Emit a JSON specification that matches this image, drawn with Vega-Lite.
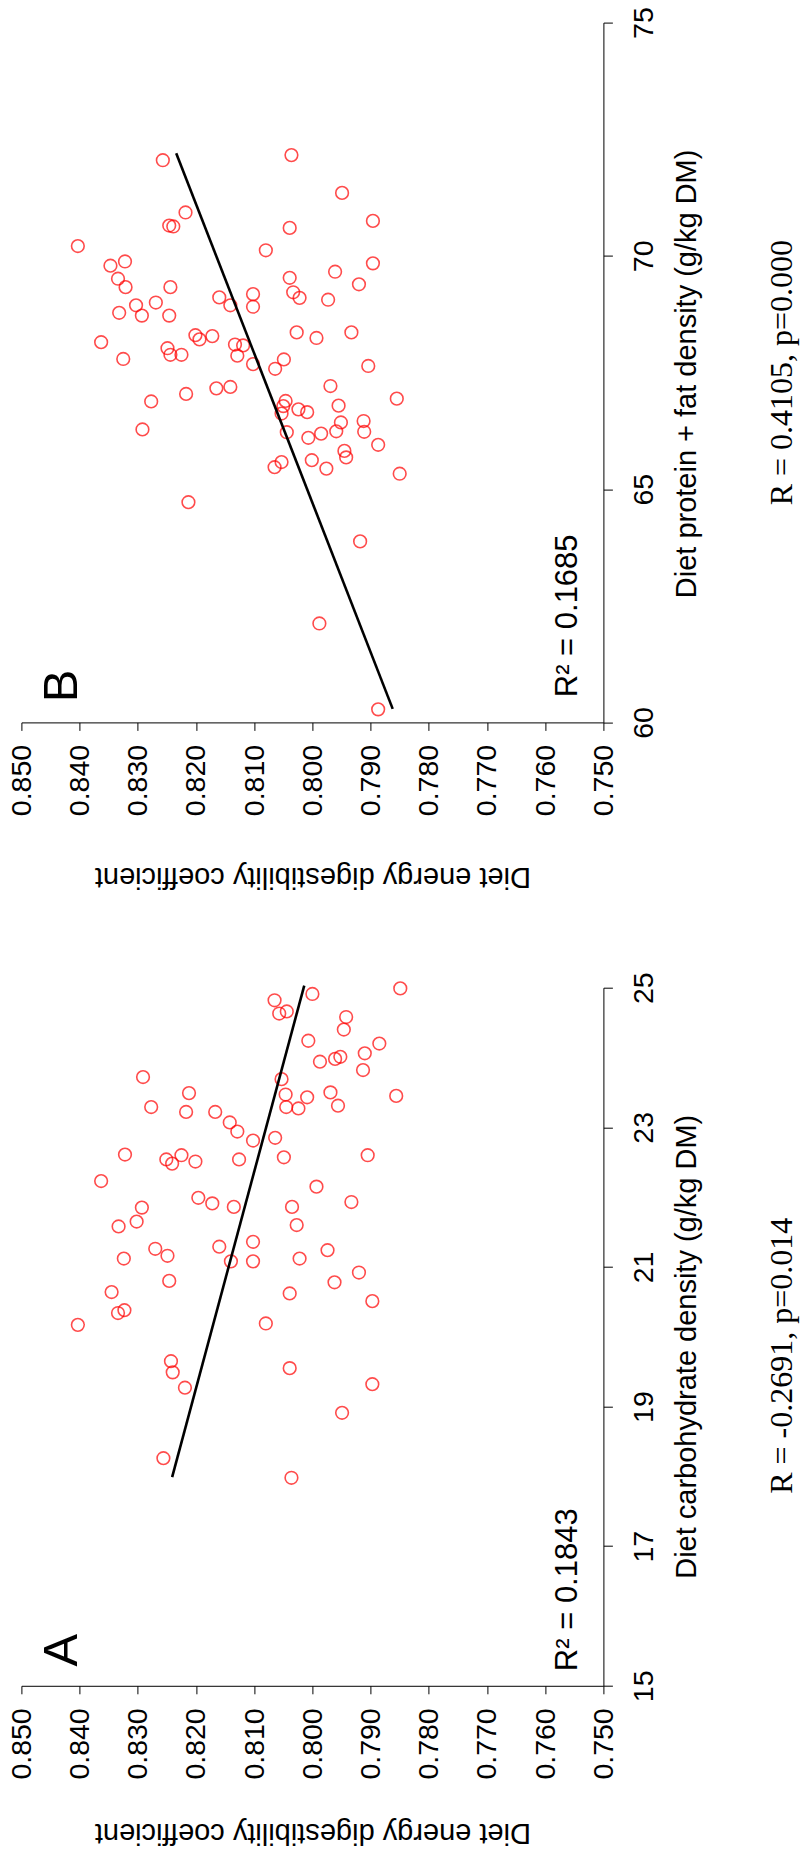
{
  "$schema": "https://vega.github.io/schema/vega-lite/v6.json",
  "padding": {"left": 7.4, "top": 6.6, "right": 40, "bottom": 40},
  "background": "white",
  "bounds": "flush",
  "spacing": 265.1,
  "datasets": {
    "pointsB": [
      {"digestibility":0.8403,"density":70.21},{"digestibility":0.8363,"density":68.15},{"digestibility":0.8347,"density":69.79},{"digestibility":0.8334,"density":69.51},{"digestibility":0.8332,"density":68.78},{"digestibility":0.8325,"density":67.79},{"digestibility":0.8322,"density":69.88},{"digestibility":0.8321,"density":69.33},{"digestibility":0.8303,"density":68.94},{"digestibility":0.8293,"density":68.72},{"digestibility":0.8292,"density":66.28},{"digestibility":0.8277,"density":66.88},{"digestibility":0.8269,"density":69.00},{"digestibility":0.8257,"density":72.05},{"digestibility":0.8249,"density":68.02},{"digestibility":0.8246,"density":68.72},{"digestibility":0.8244,"density":69.33},{"digestibility":0.8246,"density":70.65},{"digestibility":0.8239,"density":70.63},{"digestibility":0.8244,"density":67.88},{"digestibility":0.8225,"density":67.88},{"digestibility":0.8218,"density":70.93},{"digestibility":0.8217,"density":67.04},{"digestibility":0.8213,"density":64.72},{"digestibility":0.8201,"density":68.30},{"digestibility":0.8194,"density":68.21},{"digestibility":0.8172,"density":68.28},{"digestibility":0.8165,"density":67.16},{"digestibility":0.8160,"density":69.11},{"digestibility":0.8141,"density":68.94},{"digestibility":0.8141,"density":67.19},{"digestibility":0.8133,"density":68.10},{"digestibility":0.8129,"density":67.86},{"digestibility":0.8119,"density":68.08},{"digestibility":0.8102,"density":69.18},{"digestibility":0.8102,"density":68.91},{"digestibility":0.8102,"density":67.68},{"digestibility":0.8080,"density":70.12},{"digestibility":0.8065,"density":65.47},{"digestibility":0.8064,"density":67.58},{"digestibility":0.8053,"density":65.58},{"digestibility":0.8049,"density":67.78},{"digestibility":0.8053,"density":66.62},{"digestibility":0.8046,"density":66.89},{"digestibility":0.8050,"density":66.78},{"digestibility":0.8044,"density":66.22},{"digestibility":0.8039,"density":70.60},{"digestibility":0.8039,"density":69.53},{"digestibility":0.8036,"density":72.16},{"digestibility":0.8033,"density":69.22},{"digestibility":0.8027,"density":68.36},{"digestibility":0.8024,"density":66.71},{"digestibility":0.8022,"density":69.10},{"digestibility":0.8009,"density":66.65},{"digestibility":0.8007,"density":66.10},{"digestibility":0.8001,"density":65.62},{"digestibility":0.7993,"density":68.24},{"digestibility":0.7988,"density":62.12},{"digestibility":0.7985,"density":66.19},{"digestibility":0.7976,"density":65.44},{"digestibility":0.7973,"density":69.06},{"digestibility":0.7969,"density":67.21},{"digestibility":0.7961,"density":69.66},{"digestibility":0.7959,"density":66.24},{"digestibility":0.7955,"density":66.79},{"digestibility":0.7951,"density":66.43},{"digestibility":0.7949,"density":71.35},{"digestibility":0.7945,"density":65.82},{"digestibility":0.7942,"density":65.68},{"digestibility":0.7933,"density":68.36},{"digestibility":0.7920,"density":69.39},{"digestibility":0.7918,"density":63.88},{"digestibility":0.7912,"density":66.46},{"digestibility":0.7911,"density":66.23},{"digestibility":0.7904,"density":67.64},{"digestibility":0.7896,"density":70.75},{"digestibility":0.7896,"density":69.84},{"digestibility":0.7887,"density":65.95},{"digestibility":0.7887,"density":60.28},{"digestibility":0.7855,"density":66.94},{"digestibility":0.7850,"density":65.33}
    ],
    "pointsA": [
      {"digestibility":0.8403,"density":20.17},{"digestibility":0.8363,"density":22.23},{"digestibility":0.8345,"density":20.64},{"digestibility":0.8334,"density":20.34},{"digestibility":0.8333,"density":21.58},{"digestibility":0.8323,"density":20.38},{"digestibility":0.8324,"density":21.12},{"digestibility":0.8322,"density":22.61},{"digestibility":0.8302,"density":21.65},{"digestibility":0.8293,"density":21.85},{"digestibility":0.8291,"density":23.72},{"digestibility":0.8277,"density":23.29},{"digestibility":0.8270,"density":21.26},{"digestibility":0.8256,"density":18.26},{"digestibility":0.8249,"density":21.16},{"digestibility":0.8246,"density":20.80},{"digestibility":0.8251,"density":22.54},{"digestibility":0.8243,"density":19.65},{"digestibility":0.8240,"density":19.49},{"digestibility":0.8241,"density":22.48},{"digestibility":0.8225,"density":22.60},{"digestibility":0.8219,"density":19.27},{"digestibility":0.8217,"density":23.22},{"digestibility":0.8212,"density":23.49},{"digestibility":0.8201,"density":22.51},{"digestibility":0.8196,"density":21.99},{"digestibility":0.8172,"density":21.91},{"digestibility":0.8167,"density":23.22},{"digestibility":0.8160,"density":21.29},{"digestibility":0.8142,"density":23.07},{"digestibility":0.8140,"density":21.08},{"digestibility":0.8135,"density":21.86},{"digestibility":0.8129,"density":22.94},{"digestibility":0.8126,"density":22.54},{"digestibility":0.8102,"density":22.81},{"digestibility":0.8102,"density":21.36},{"digestibility":0.8102,"density":21.08},{"digestibility":0.8080,"density":20.19},{"digestibility":0.8065,"density":24.82},{"digestibility":0.8064,"density":22.85},{"digestibility":0.8057,"density":24.63},{"digestibility":0.8053,"density":23.69},{"digestibility":0.8049,"density":22.57},{"digestibility":0.8044,"density":24.66},{"digestibility":0.8046,"density":23.47},{"digestibility":0.8045,"density":23.29},{"digestibility":0.8039,"density":19.55},{"digestibility":0.8039,"density":20.62},{"digestibility":0.8036,"density":17.98},{"digestibility":0.8035,"density":21.86},{"digestibility":0.8027,"density":21.60},{"digestibility":0.8024,"density":23.27},{"digestibility":0.8022,"density":21.12},{"digestibility":0.8009,"density":23.43},{"digestibility":0.8007,"density":24.24},{"digestibility":0.8000,"density":24.91},{"digestibility":0.7993,"density":22.15},{"digestibility":0.7987,"density":23.94},{"digestibility":0.7974,"density":21.24},{"digestibility":0.7969,"density":23.50},{"digestibility":0.7962,"density":20.78},{"digestibility":0.7961,"density":23.98},{"digestibility":0.7956,"density":23.31},{"digestibility":0.7952,"density":24.01},{"digestibility":0.7949,"density":18.91},{"digestibility":0.7946,"density":24.40},{"digestibility":0.7942,"density":24.58},{"digestibility":0.7933,"density":21.93},{"digestibility":0.7920,"density":20.92},{"digestibility":0.7913,"density":23.82},{"digestibility":0.7910,"density":24.06},{"digestibility":0.7905,"density":22.60},{"digestibility":0.7897,"density":20.51},{"digestibility":0.7897,"density":19.32},{"digestibility":0.7885,"density":24.20},{"digestibility":0.7856,"density":23.45},{"digestibility":0.7849,"density":24.99}
    ],
    "lineB": [{"digestibility":0.7862,"density":60.29},{"digestibility":0.8234,"density":72.20}],
    "lineA": [{"digestibility":0.8241,"density":17.99},{"digestibility":0.8014,"density":25.03}]
  },
  "vconcat": [
    {
      "width": 582,
      "height": 699.8,
      "resolve": {"axis": {"y": "independent"}},
      "layer": [
        {
          "data": {"name": "pointsB"},
          "mark": {"type": "point", "shape": "circle", "filled": false, "color": "#ff0000", "size": 160, "strokeWidth": 1.6},
          "encoding": {
            "x": {"field": "digestibility", "type": "quantitative",
              "scale": {"domain": [0.75, 0.85], "reverse": true, "nice": false, "zero": false},
              "axis": {"values": [0.75,0.76,0.77,0.78,0.79,0.8,0.81,0.82,0.83,0.84,0.85], "format": ".3f",
                "labelAngle": 270, "labelAlign": "right", "labelBaseline": "middle", "labelPadding": 14, "tickSize": 8,
                "title": "Diet energy digestibility coefficient", "titleAngle": 180, "titleBaseline": "bottom",
                "titleAlign": "center", "titleX": 291, "titleY": 139}},
            "y": {"field": "density", "type": "quantitative",
              "scale": {"domain": [60, 75], "nice": false, "zero": false},
              "axis": {"orient": "right", "values": [60, 65, 70, 75], "labelAngle": 270, "labelAlign": "center",
                "labelBaseline": "top", "labelPadding": 17.5,
                "title": "Diet protein + fat density (g/kg DM)", "titleAngle": 270, "titleBaseline": "top",
                "titleAlign": "center", "titleX": 69.3, "titleY": 350.8}}
          }
        },
        {
          "data": {"name": "lineB"},
          "mark": {"type": "line", "color": "black", "strokeWidth": 2.6},
          "encoding": {
            "x": {"field": "digestibility", "type": "quantitative"},
            "y": {"field": "density", "type": "quantitative",
              "axis": {"orient": "right", "title": "R = 0.4105, p=0.000", "labels": false, "ticks": false, "domain": false,
                "titleFont": "Liberation Serif", "titleFontSize": 32, "titleAngle": 270, "titleBaseline": "top",
                "titleAlign": "center", "titleX": 162.9, "titleY": 349.5}}
          }
        },
        {
          "data": {"values": [{}]},
          "mark": {"type": "text", "text": "B", "font": "Liberation Sans", "fontSize": 49, "angle": 270, "align": "left", "baseline": "alphabetic", "color": "black"},
          "encoding": {
            "x": {"datum": 0.8405, "type": "quantitative"},
            "y": {"datum": 60.43, "type": "quantitative", "axis": null}
          }
        },
        {
          "data": {"values": [{}]},
          "mark": {"type": "text", "text": "R² = 0.1685", "font": "Liberation Sans", "fontSize": 31, "angle": 270, "align": "left", "baseline": "alphabetic", "color": "black"},
          "encoding": {
            "x": {"datum": 0.7546, "type": "quantitative"},
            "y": {"datum": 60.54, "type": "quantitative", "axis": null}
          }
        }
      ]
    },
    {
      "width": 582,
      "height": 698.1,
      "resolve": {"axis": {"y": "independent"}},
      "layer": [
        {
          "data": {"name": "pointsA"},
          "mark": {"type": "point", "shape": "circle", "filled": false, "color": "#ff0000", "size": 160, "strokeWidth": 1.6},
          "encoding": {
            "x": {"field": "digestibility", "type": "quantitative",
              "scale": {"domain": [0.75, 0.85], "reverse": true, "nice": false, "zero": false},
              "axis": {"values": [0.75,0.76,0.77,0.78,0.79,0.8,0.81,0.82,0.83,0.84,0.85], "format": ".3f",
                "labelAngle": 270, "labelAlign": "right", "labelBaseline": "middle", "labelPadding": 14, "tickSize": 8,
                "title": "Diet energy digestibility coefficient", "titleAngle": 180, "titleBaseline": "bottom",
                "titleAlign": "center", "titleX": 291, "titleY": 132}},
            "y": {"field": "density", "type": "quantitative",
              "scale": {"domain": [15, 25], "nice": false, "zero": false},
              "axis": {"orient": "right", "values": [15, 17, 19, 21, 23, 25], "labelAngle": 270, "labelAlign": "center",
                "labelBaseline": "top", "labelPadding": 17.5,
                "title": "Diet carbohydrate density (g/kg DM)", "titleAngle": 270, "titleBaseline": "top",
                "titleAlign": "center", "titleX": 69.3, "titleY": 358.6}}
          }
        },
        {
          "data": {"name": "lineA"},
          "mark": {"type": "line", "color": "black", "strokeWidth": 2.6},
          "encoding": {
            "x": {"field": "digestibility", "type": "quantitative"},
            "y": {"field": "density", "type": "quantitative",
              "axis": {"orient": "right", "title": "R = -0.2691, p=0.014", "labels": false, "ticks": false, "domain": false,
                "titleFont": "Liberation Serif", "titleFontSize": 32, "titleAngle": 270, "titleBaseline": "top",
                "titleAlign": "center", "titleX": 162.9, "titleY": 367.6}}
          }
        },
        {
          "data": {"values": [{}]},
          "mark": {"type": "text", "text": "A", "font": "Liberation Sans", "fontSize": 49, "angle": 270, "align": "left", "baseline": "alphabetic", "color": "black"},
          "encoding": {
            "x": {"datum": 0.8405, "type": "quantitative"},
            "y": {"datum": 15.275, "type": "quantitative", "axis": null}
          }
        },
        {
          "data": {"values": [{}]},
          "mark": {"type": "text", "text": "R² = 0.1843", "font": "Liberation Sans", "fontSize": 31, "angle": 270, "align": "left", "baseline": "alphabetic", "color": "black"},
          "encoding": {
            "x": {"datum": 0.7546, "type": "quantitative"},
            "y": {"datum": 15.21, "type": "quantitative", "axis": null}
          }
        }
      ]
    }
  ],
  "config": {
    "view": {"stroke": null},
    "font": "Liberation Sans",
    "axis": {
      "grid": false,
      "labelFont": "Liberation Sans", "labelFontSize": 28.5, "labelColor": "black",
      "labelFlush": false, "labelOverlap": false,
      "titleFont": "Liberation Sans", "titleFontSize": 29, "titleFontWeight": "normal", "titleColor": "black",
      "domainColor": "black", "domainWidth": 1, "tickColor": "black", "tickWidth": 1, "tickSize": 9
    }
  }
}
